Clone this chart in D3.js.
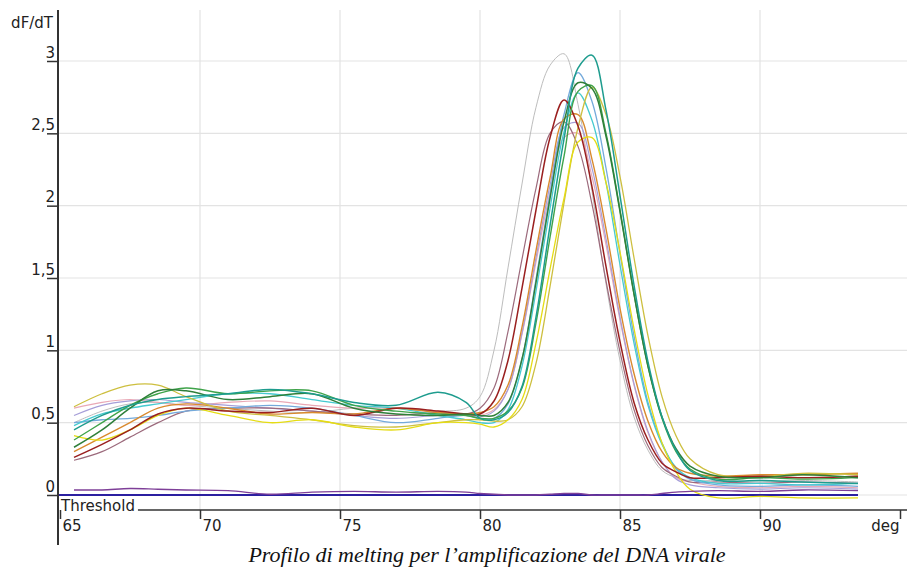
<!DOCTYPE html>
<html>
<head>
<meta charset="utf-8">
<script src="https://cdn.jsdelivr.net/npm/d3@7"></script>
<style>
  body { margin: 0; background: #fff; }
  .axis text { font-family: "DejaVu Sans", Verdana, sans-serif; font-size: 15px; fill: #222; }
</style>
</head>
<body>
<script>
// Temperatures (deg) where the dF/dT values were read
const temps = [65.5, 66.5, 67.5, 68.5, 69.5, 71, 72.5, 74, 75.5, 77, 78.5, 79.5,
  80, 80.5, 81, 81.5, 82, 82.5, 83, 83.5, 84, 84.5, 85, 85.5, 86, 86.5, 87, 87.5,
  88.5, 90, 91.5, 93.5];

const gray = [0.5, 0.58, 0.63, 0.64, 0.62, 0.6, 0.58, 0.57, 0.6, 0.6, 0.58, 0.6,
  0.68, 1.0, 1.57, 2.15, 2.68, 2.97, 3.05, 2.7, 2.1, 1.46, 0.93, 0.54, 0.31, 0.17, 0.12, 0.1,
  0.1, 0.09, 0.1, 0.09];
const teal = [0.45, 0.55, 0.62, 0.66, 0.68, 0.7, 0.73, 0.7, 0.64, 0.62, 0.71, 0.64,
  0.53, 0.52, 0.57, 0.75, 1.23, 1.86, 2.46, 2.95, 3.04, 2.66, 2.07, 1.45, 0.92, 0.54, 0.31, 0.17,
  0.1, 0.1, 0.09, 0.08];
const lightBlue = [0.5, 0.52, 0.53, 0.55, 0.58, 0.6, 0.62, 0.6, 0.55, 0.5, 0.53, 0.55,
  0.53, 0.53, 0.63, 0.94, 1.49, 2.08, 2.63, 2.92, 2.72, 2.26, 1.67, 1.1, 0.64, 0.36, 0.18, 0.11,
  0.07, 0.06, 0.07, 0.06];
const darkGreen = [0.33, 0.45, 0.6, 0.72, 0.72, 0.66, 0.68, 0.7, 0.6, 0.56, 0.55, 0.56,
  0.55, 0.55, 0.64, 0.94, 1.47, 2.05, 2.58, 2.85, 2.81, 2.48, 1.96, 1.39, 0.89, 0.54, 0.32, 0.2,
  0.13, 0.12, 0.14, 0.12];
const olive = [0.61, 0.7, 0.76, 0.76, 0.68, 0.58, 0.55, 0.52, 0.48, 0.47, 0.5, 0.52,
  0.52, 0.51, 0.52, 0.61, 0.91, 1.44, 2.02, 2.54, 2.82, 2.63, 2.2, 1.64, 1.1, 0.68, 0.41, 0.25,
  0.14, 0.13, 0.15, 0.14];
const darkRed = [0.26, 0.35, 0.45, 0.56, 0.6, 0.58, 0.57, 0.6, 0.55, 0.6, 0.58, 0.56,
  0.56, 0.65, 0.93, 1.43, 1.97, 2.47, 2.73, 2.55, 2.13, 1.58, 1.06, 0.64, 0.38, 0.22, 0.16, 0.12,
  0.12, 0.13, 0.12, 0.13];
const pink = [0.6, 0.64, 0.66, 0.64, 0.62, 0.64, 0.65, 0.62, 0.6, 0.6, 0.57, 0.55,
  0.55, 0.59, 0.73, 1.11, 1.61, 2.09, 2.47, 2.5, 2.2, 1.73, 1.21, 0.76, 0.43, 0.23, 0.12, 0.09,
  0.06, 0.05, 0.06, 0.05];
const yellow = [0.41, 0.38, 0.45, 0.55, 0.6, 0.55, 0.5, 0.52, 0.47, 0.45, 0.5, 0.5,
  0.49, 0.47, 0.52, 0.66, 1.05, 1.56, 2.05, 2.44, 2.47, 2.16, 1.68, 1.15, 0.69, 0.36, 0.16, 0.04,
  -0.02, -0.01, -0.02, -0.02];
const orange = [0.3, 0.4, 0.5, 0.6, 0.63, 0.6, 0.56, 0.57, 0.56, 0.6, 0.57, 0.56,
  0.57, 0.61, 0.76, 1.16, 1.69, 2.19, 2.6, 2.63, 2.32, 1.84, 1.29, 0.84, 0.51, 0.3, 0.19, 0.15,
  0.13, 0.14, 0.14, 0.15];
const cyan = [0.48, 0.56, 0.6, 0.63, 0.66, 0.7, 0.7, 0.66, 0.62, 0.6, 0.55, 0.52,
  0.5, 0.5, 0.59, 0.89, 1.41, 1.98, 2.51, 2.78, 2.59, 2.16, 1.59, 1.05, 0.62, 0.35, 0.19, 0.12,
  0.08, 0.08, 0.07, 0.08];
const lavender = [0.55, 0.62, 0.65, 0.66, 0.64, 0.62, 0.6, 0.58, 0.55, 0.53, 0.55, 0.55,
  0.54, 0.58, 0.73, 1.12, 1.64, 2.14, 2.54, 2.57, 2.26, 1.77, 1.23, 0.77, 0.44, 0.23, 0.11, 0.07,
  0.05, 0.04, 0.05, 0.04];
const green = [0.38, 0.5, 0.62, 0.7, 0.74, 0.7, 0.72, 0.72, 0.62, 0.58, 0.56, 0.55,
  0.53, 0.53, 0.58, 0.74, 1.19, 1.78, 2.34, 2.79, 2.83, 2.5, 1.97, 1.39, 0.89, 0.53, 0.3, 0.18,
  0.11, 0.12, 0.11, 0.12];
const mauve = [0.24, 0.3, 0.4, 0.5, 0.58, 0.6, 0.6, 0.58, 0.56, 0.55, 0.57, 0.56,
  0.6, 0.74, 1.13, 1.63, 2.12, 2.5, 2.58, 2.41, 2.01, 1.48, 0.99, 0.59, 0.34, 0.19, 0.13, 0.09,
  0.09, 0.08, 0.09, 0.08];
const purple = [0.035, 0.035, 0.045, 0.04, 0.035, 0.03, 0.005, 0.02, 0.025, 0.02, 0.025, 0.02,
  0.01, 0.005, 0, 0, 0, 0.005, 0.01, 0.01, 0, 0, 0, 0, 0, 0.01, 0.02, 0.025,
  0.03, 0.025, 0.035, 0.03];

const thresholdValue = 0;

const yTicks = [0, 0.5, 1, 1.5, 2, 2.5, 3];
const xTicks = [65, 70, 75, 80, 85, 90, 95];

const series = [
  { values: gray, color: '#bdbdbd', width: 1 },
  { values: pink, color: '#e9a9b6', width: 1.2 },
  { values: lavender, color: '#a69ed8', width: 1.2 },
  { values: mauve, color: '#9c6a7c', width: 1.2 },
  { values: lightBlue, color: '#74aadb', width: 1.3 },
  { values: cyan, color: '#46cad0', width: 1.3 },
  { values: orange, color: '#d98a2e', width: 1.4 },
  { values: olive, color: '#cdbf3f', width: 1.3 },
  { values: yellow, color: '#e5dc14', width: 1.3 },
  { values: darkRed, color: '#9a1f1f', width: 1.5 },
  { values: green, color: '#3fa34a', width: 1.4 },
  { values: darkGreen, color: '#2f7f3a', width: 1.5 },
  { values: teal, color: '#1e9c8e', width: 1.5 },
  { values: purple, color: '#7e3f98', width: 1.4 }
];

const svgWidth = 907;
const svgHeight = 569;

const svg = d3.select('body')
  .append('svg')
  .attr('width', svgWidth)
  .attr('height', svgHeight)
  .style('display', 'block');

svg.append('rect').attr('width', svgWidth).attr('height', svgHeight).attr('fill', '#fff');

// scales
const x = d3.scaleLinear().domain([65, 95]).range([60, 900]);
const y = d3.scaleLinear().domain([0, 3]).range([495, 61]);

const axisX = 58;
const plotTop = 10;
const xAxisY = 510;

// grid
svg.append('g')
  .selectAll('line')
  .data(yTicks)
  .enter()
  .append('line')
  .attr('x1', axisX)
  .attr('x2', svgWidth)
  .attr('y1', d => y(d))
  .attr('y2', d => y(d))
  .attr('stroke', '#e3e3e3')
  .attr('stroke-width', 1.2);

svg.append('g')
  .selectAll('line')
  .data(xTicks.filter(d => d > 65 && d < 95))
  .enter()
  .append('line')
  .attr('x1', d => x(d))
  .attr('x2', d => x(d))
  .attr('y1', plotTop)
  .attr('y2', xAxisY)
  .attr('stroke', '#e3e3e3')
  .attr('stroke-width', 1.2);

// threshold line
svg.append('line')
  .attr('x1', axisX)
  .attr('x2', x(temps[temps.length - 1]))
  .attr('y1', y(thresholdValue))
  .attr('y2', y(thresholdValue))
  .attr('stroke', '#2b1fa0')
  .attr('stroke-width', 2);

// curves
const line = d3.line()
  .x((d, i) => x(temps[i]))
  .y(d => y(d))
  .curve(d3.curveCatmullRom.alpha(0.5));

svg.append('g')
  .selectAll('path')
  .data(series)
  .enter()
  .append('path')
  .attr('d', d => line(d.values))
  .attr('fill', 'none')
  .attr('stroke', d => d.color)
  .attr('stroke-width', d => d.width);

// y axis
const yAxis = d3.axisLeft(y)
  .tickValues(yTicks)
  .tickSize(11)
  .tickFormat(d => String(d).replace('.', ','));

const gy = svg.append('g')
  .attr('class', 'axis')
  .attr('transform', `translate(${axisX},0)`)
  .call(yAxis);
gy.select('.domain').remove();
gy.selectAll('.tick line').attr('stroke', '#333').attr('stroke-width', 1.5);
gy.selectAll('.tick text').attr('x', -3).attr('dy', '-0.25em');

svg.append('line')
  .attr('x1', axisX).attr('x2', axisX)
  .attr('y1', plotTop).attr('y2', 545)
  .attr('stroke', '#333')
  .attr('stroke-width', 2);

svg.append('text')
  .attr('x', 53)
  .attr('y', 28)
  .attr('text-anchor', 'end')
  .style('font-family', '"DejaVu Sans", Verdana, sans-serif')
  .style('font-size', '15px')
  .attr('fill', '#222')
  .text('dF/dT');

// x axis
const xAxis = d3.axisBottom(x)
  .tickValues(xTicks)
  .tickSize(9)
  .tickFormat(d => d === 95 ? 'deg' : d);

const gx = svg.append('g')
  .attr('class', 'axis')
  .attr('transform', `translate(0,${xAxisY})`)
  .call(xAxis);
gx.select('.domain').remove();
gx.selectAll('.tick line').attr('stroke', '#333').attr('stroke-width', 1.5);
gx.selectAll('.tick text')
  .attr('text-anchor', d => d === 95 ? 'end' : 'start')
  .attr('x', d => d === 95 ? -1 : 2)
  .attr('y', 10)
  .attr('dy', '0.71em');

const thresholdLabel = svg.append('text')
  .attr('x', 61)
  .attr('y', xAxisY + 1)
  .style('font-family', '"DejaVu Sans", Verdana, sans-serif')
  .style('font-size', '15px')
  .attr('fill', '#222')
  .text('Threshold');

const labelEnd = 61 + thresholdLabel.node().getComputedTextLength() + 3;
svg.append('line')
  .attr('x1', labelEnd).attr('x2', svgWidth)
  .attr('y1', xAxisY).attr('y2', xAxisY)
  .attr('stroke', '#333')
  .attr('stroke-width', 1.5);

// caption
svg.append('text')
  .attr('x', 487)
  .attr('y', 562)
  .attr('text-anchor', 'middle')
  .style('font-family', '"Liberation Serif", "Times New Roman", serif')
  .style('font-style', 'italic')
  .style('font-size', '22px')
  .attr('fill', '#111')
  .text('Profilo di melting per l\u2019amplificazione del DNA virale');
</script>
</body>
</html>
